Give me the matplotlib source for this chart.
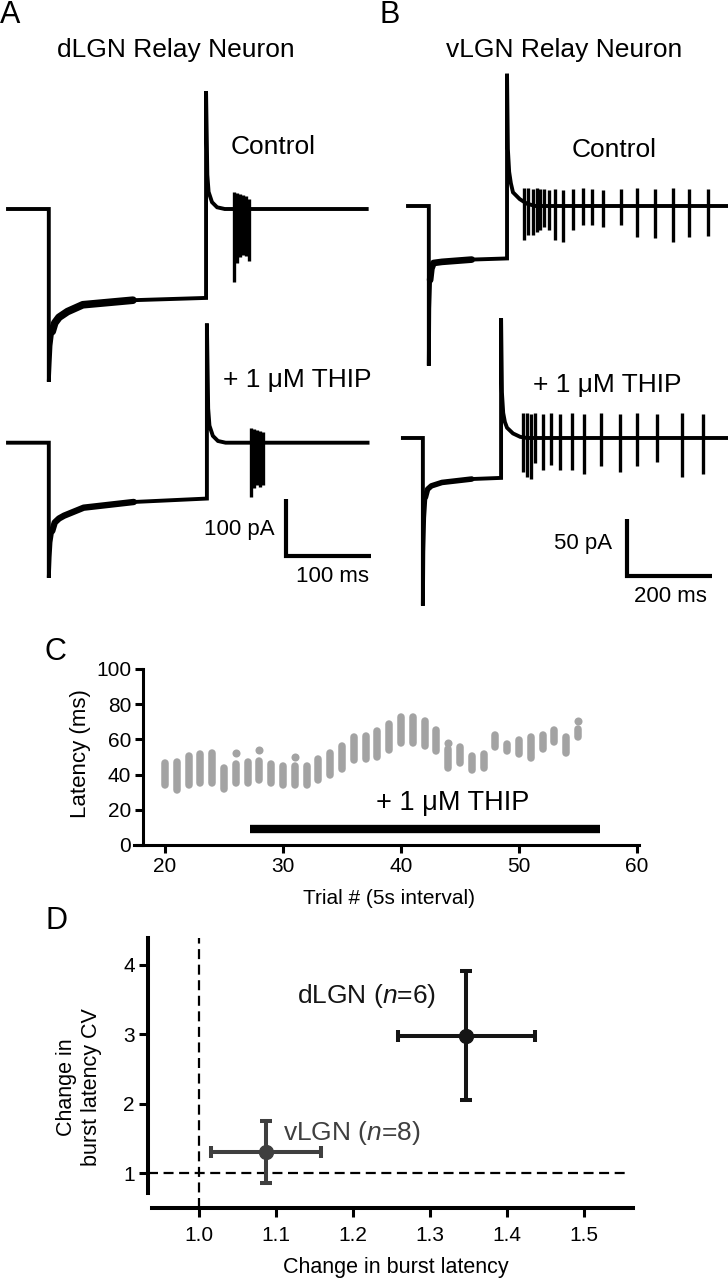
import matplotlib
matplotlib.use('Agg')
import matplotlib.pyplot as plt

plt.rcParams['font.family'] = ['Liberation Sans', 'DejaVu Sans']
plt.rcParams['mathtext.fontset'] = 'custom'
plt.rcParams['mathtext.rm'] = 'Liberation Sans'
plt.rcParams['mathtext.it'] = 'Liberation Sans:italic'

# ---------------- data ----------------
# Panel A (dLGN) : time (ms), current (pA)
ctrlA_t = [0, 48, 48, 49, 50, 52, 55, 60, 70, 88, 147, 233, 233, 234.5, 236, 240, 246, 255, 422]
ctrlA_i = [0, 0, -303, -270, -240, -215, -200, -190, -180, -168, -160, -156, 207, 60, 30, 12, 3, 0, 0]
ctrlA_spk_t = [266, 269.5, 273, 276.5, 280, 283.5]
ctrlA_spk_up = [30, 28, 26, 24, 22, 18]
ctrlA_spk_dn = [-128, -95, -85, -80, -82, -92]

thipA_t = [0, 48, 48, 49, 50, 52, 55, 60, 66, 89, 148, 234, 234, 235.5, 237, 241, 247, 256, 423]
thipA_i = [0, 0, -237, -200, -175, -155, -140, -133, -128, -114, -104, -98, 209, 60, 30, 12, 3, 0, 0]
thipA_spk_t = [286, 289.5, 293, 296.5, 300]
thipA_spk_up = [26, 24, 22, 20, 18]
thipA_spk_dn = [-96, -80, -75, -78, -75]

# Panel B (vLGN)
ctrlB_t = [0, 49, 49, 50, 52, 55, 60, 80, 150, 233, 233, 235, 238, 242, 247, 263, 280, 300, 753]
ctrlB_i = [0, 0, -140, -90, -65, -55, -50, -49, -47, -46, 116, 50, 30, 20, 12, 6, 2, 0, 0]
ctrlB_spk_t = [273, 282, 294, 304, 311, 320, 332, 346, 365, 388, 412, 433, 459, 501, 539, 581, 624, 661, 706]
ctrlB_spk_up = [16, 16, 15, 16, 15, 15, 14, 15, 14, 15, 16, 15, 14, 15, 16, 15, 16, 15, 15]
ctrlB_spk_dn = [-30, -25, -25, -23, -21, -18, -21, -30, -32, -21, -17, -17, -18, -17, -27, -28, -32, -27, -26]

thipB_t = [-12, 35, 35, 36, 38, 41, 46, 55, 80, 150, 219, 219, 221, 224, 228, 233, 247, 264, 280, 753]
thipB_i = [0, 0, -147, -100, -70, -52, -45, -42, -39, -36, -35, 105, 40, 22, 14, 9, 4, 1, 0, 0]
thipB_spk_t = [271, 280, 289, 299, 318, 336, 358, 386, 414, 454, 499, 539, 586, 645, 694]
thipB_spk_up = [22, 22, 21, 22, 21, 22, 21, 22, 21, 22, 21, 22, 21, 22, 21]
thipB_spk_dn = [-30, -34, -36, -22, -28, -24, -28, -28, -32, -25, -30, -25, -21, -34, -32]

# Panel C : burst latencies per trial (column low/high), isolated high dots
trials = list(range(20, 56))
lat_low = [34, 31, 34, 35, 35, 32, 35, 35, 37, 35, 34, 34, 34, 37, 39.5, 43, 48.5, 49, 50, 54,
           58, 58, 56, 53.5, 43.5, 46.5, 42.5, 43.5, 55.5, 53.5, 51.5, 49.5, 54.5, 58.5, 52.5, 61.5]
lat_high = [46.5, 47, 50.5, 51.7, 52, 44, 46, 47, 48, 46, 45, 45, 45, 49, 52, 56, 61.5, 62, 64.5, 68.5,
            72.5, 72.5, 70.5, 65.5, 54.5, 55.5, 50.5, 51.5, 62.5, 57.5, 59.5, 61.5, 62.5, 65.5, 61.5, 66]
out_trials = [26, 28, 31, 44, 55]
out_lat = [52.5, 54, 50, 58, 70.5]
thip_bar = (27.2, 56.9)

# Panel D
groups = ['dLGN', 'vLGN']
n_cells = [6, 8]
lat_change = [1.347, 1.0875]
lat_err = [0.089, 0.0713]
cv_change = [2.98, 1.31]
cv_err = [0.93, 0.45]

# ---------------- figure ----------------
W, H = 728, 1280
fig = plt.figure(figsize=(W / 100, H / 100), dpi=100)


def axes_px(x0v, x0p, x1v, x1p, xlim, y0v, y0p, y1v, y1p, ylim):
    sx = (x1p - x0p) / (x1v - x0v)
    sy = (y1p - y0p) / (y1v - y0v)
    left = x0p + (xlim[0] - x0v) * sx
    right = x0p + (xlim[1] - x0v) * sx
    top = y0p + (ylim[1] - y0v) * sy
    bottom = y0p + (ylim[0] - y0v) * sy
    ax = fig.add_axes([left / W, 1 - bottom / H, (right - left) / W, (bottom - top) / H])
    ax.set_xlim(xlim)
    ax.set_ylim(ylim)
    return ax


def ftext(x, y, s, **kw):
    fig.text(x / W, 1 - y / H, s, **kw)


def trace(ax, t, i, st, su, sd, off=0.0, plateau=None, plw=5.0):
    ax.plot(t, [v + off for v in i], color='black', lw=2.8, solid_joinstyle='miter')
    if plateau is not None:
        pt = [a for a in t if plateau[0] <= a <= plateau[1]]
        pi = [b + off for a, b in zip(t, i) if plateau[0] <= a <= plateau[1]]
        ax.plot(pt, pi, color='black', lw=plw, solid_capstyle='round', solid_joinstyle='round')
    ax.vlines(st, [v + off for v in sd], [v + off for v in su], color='black', lw=2.4)


# Panel A
axA = axes_px(0, 8, 100, 93, (-9.4, 437.6), 0, 209, -100, 266, (-721, 261))
axA.axis('off')
offA = -410
trace(axA, ctrlA_t, ctrlA_i, ctrlA_spk_t, ctrlA_spk_up, ctrlA_spk_dn, plateau=(52, 232), plw=5.5)
trace(axA, thipA_t, thipA_i, thipA_spk_t, thipA_spk_up, thipA_spk_dn, offA, plateau=(52, 233), plw=4.6)
sbA_t, sbA_y = 327, -609
axA.plot([sbA_t, sbA_t, sbA_t + 100], [sbA_y + 100, sbA_y, sbA_y], color='black', lw=3,
         solid_capstyle='butt', solid_joinstyle='miter')

# Panel B
axB = axes_px(0, 408, 200, 493, (-65.9, 752.9), 0, 206, -50, 263, (-363, 128))
axB.axis('off')
offB = -203.5
trace(axB, ctrlB_t, ctrlB_i, ctrlB_spk_t, ctrlB_spk_up, ctrlB_spk_dn, plateau=(52, 232), plw=4.8)
trace(axB, thipB_t, thipB_i, thipB_spk_t, thipB_spk_up, thipB_spk_dn, offB, plateau=(41, 218), plw=4.0)
sbB_t, sbB_y = 515, -324.6
axB.plot([sbB_t, sbB_t, sbB_t + 200], [sbB_y + 50, sbB_y, sbB_y], color='black', lw=3,
         solid_capstyle='butt', solid_joinstyle='miter')

# texts A/B
fs_t = 19
ftext(0, 0, 'A', fontsize=22, ha='left', va='top')
ftext(379, 0, 'B', fontsize=22, ha='left', va='top')
ftext(176, 57, 'dLGN Relay Neuron', fontsize=fs_t, ha='center', va='baseline')
ftext(564, 57, 'vLGN Relay Neuron', fontsize=fs_t, ha='center', va='baseline')
ftext(273, 154, 'Control', fontsize=fs_t, ha='center', va='baseline')
ftext(614, 157, 'Control', fontsize=fs_t, ha='center', va='baseline')
ftext(223, 387, '+ 1 \u03bcM THIP', fontsize=fs_t, ha='left', va='baseline')
ftext(607, 392, '+ 1 \u03bcM THIP', fontsize=fs_t, ha='center', va='baseline')
ftext(239, 530, '100 pA', fontsize=16, ha='center', va='center')
ftext(332, 576, '100 ms', fontsize=16, ha='center', va='center')
ftext(583, 544, '50 pA', fontsize=16, ha='center', va='center')
ftext(670, 596, '200 ms', fontsize=16, ha='center', va='center')

# Panel C
axC = axes_px(20, 165, 60, 637, (17.37, 60.2), 0, 845, 100, 669, (0, 100))
grey = '#a3a3a3'
axC.vlines(trials, lat_low, lat_high, color=grey, lw=5.4, capstyle='round', zorder=2)
axC.plot(out_trials, out_lat, 'o', color=grey, ms=5.8, mec='none', zorder=2)
axC.plot(list(thip_bar), [9.1, 9.1], color='black', lw=6, solid_capstyle='butt', clip_on=False)
axC.text(44.4, 24, '+ 1 \u03bcM THIP', fontsize=19.5, ha='center', va='center')
for s in ['top', 'right']:
    axC.spines[s].set_visible(False)
axC.spines['left'].set_position(('data', 18.13))
axC.spines['left'].set_linewidth(2.2)
axC.spines['bottom'].set_linewidth(2.2)
axC.set_xticks([20, 30, 40, 50, 60])
axC.set_yticks([0, 20, 40, 60, 80, 100])
axC.tick_params(axis='both', labelsize=15, width=2.2, length=5.5, pad=3)
axC.set_ylabel('Latency (ms)', fontsize=16)
axC.yaxis.set_label_coords(-0.085, 0.52)
for sp in axC.spines.values():
    sp.set_clip_on(False)
ftext(389, 898, 'Trial # (5s interval)', fontsize=15, ha='center', va='center')
ftext(44, 652, 'C', fontsize=22, ha='left', va='center')

# Panel D
axD = axes_px(1.0, 199, 1.5, 584, (0.93, 1.57), 1, 1173.3, 4, 965, (0.496, 4.45))
dash = (0, (4.5, 2.5))
axD.plot([1.0, 1.0], [0.496, 4.39], color='black', lw=1.6, linestyle=dash, zorder=1)
axD.plot([0.934, 1.557], [1.0, 1.0], color='black', lw=1.6, linestyle=dash, zorder=1)
colors = ['#151515', '#3f3f3f']
for k in range(len(groups)):
    axD.errorbar(lat_change[k], cv_change[k], xerr=lat_err[k], yerr=cv_err[k], fmt='o',
                 color=colors[k], ms=10, elinewidth=2.9, capsize=4.5, capthick=2.9, zorder=3)
axD.text(1.218, 3.55, r'dLGN ($\mathit{n}$=6)', fontsize=19, ha='center', va='center', color=colors[0])
axD.text(1.109, 1.58, r'vLGN ($\mathit{n}$=8)', fontsize=19, ha='left', va='center', color=colors[1])
for s in ['top', 'right']:
    axD.spines[s].set_visible(False)
axD.spines['left'].set_position(('data', 0.934))
axD.spines['left'].set_bounds(0.716, 4.39)
axD.spines['bottom'].set_bounds(0.939, 1.563)
axD.spines['left'].set_linewidth(2.9)
axD.spines['bottom'].set_linewidth(2.9)
axD.set_xticks([1.0, 1.1, 1.2, 1.3, 1.4, 1.5])
axD.set_yticks([1, 2, 3, 4])
axD.tick_params(axis='both', labelsize=15, width=2.2, length=6.5)
axD.tick_params(axis='x', pad=6)
axD.tick_params(axis='y', pad=3)
ftext(79, 1087, 'Change in\nburst latency CV', fontsize=15.5, ha='center', va='center',
      rotation=90, linespacing=1.25)
ftext(396, 1267, 'Change in burst latency', fontsize=15.5, ha='center', va='center')
ftext(45, 921, 'D', fontsize=22, ha='left', va='center')

fig.savefig('out.png', dpi=100)
